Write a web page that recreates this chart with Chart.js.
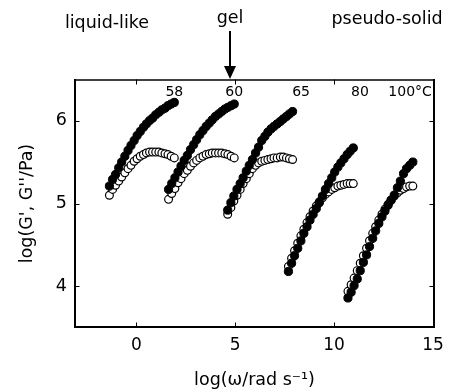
<!DOCTYPE html>
<html>
<head>
<meta charset="utf-8">
<script src="https://cdn.jsdelivr.net/npm/chart.js@4.4.0/dist/chart.umd.min.js"></script>
<style>
    html, body { margin: 0; padding: 0; background: #ffffff; }
    #wrap { width: 456px; height: 392px; }
</style>
</head>
<body>
<div id="wrap"><canvas id="rheoChart" width="456" height="392"></canvas></div>
<script>
// Frequency axis (log omega, shifted) and moduli per temperature
const freq58 = [-1.36, -1.20, -1.05, -0.89, -0.74, -0.58, -0.42, -0.27, -0.11, 0.04, 0.20, 0.36, 0.51, 0.67, 0.82, 0.98, 1.14, 1.29, 1.45, 1.60, 1.76, 1.92];
const gp58  = [5.21, 5.29, 5.35, 5.43, 5.50, 5.57, 5.64, 5.70, 5.76, 5.82, 5.87, 5.92, 5.96, 6.00, 6.03, 6.07, 6.10, 6.13, 6.15, 6.18, 6.20, 6.22];
const gpp58 = [5.10, 5.17, 5.22, 5.27, 5.32, 5.37, 5.42, 5.46, 5.51, 5.54, 5.57, 5.59, 5.61, 5.62, 5.62, 5.62, 5.62, 5.61, 5.60, 5.59, 5.57, 5.55];

const freq60 = [1.63, 1.79, 1.95, 2.11, 2.26, 2.42, 2.58, 2.74, 2.90, 3.05, 3.21, 3.37, 3.53, 3.69, 3.84, 4.00, 4.16, 4.32, 4.48, 4.63, 4.79, 4.95];
const gp60  = [5.17, 5.24, 5.31, 5.38, 5.45, 5.52, 5.58, 5.65, 5.71, 5.77, 5.83, 5.88, 5.93, 5.97, 6.01, 6.05, 6.08, 6.11, 6.14, 6.16, 6.18, 6.20];
const gpp60 = [5.05, 5.12, 5.18, 5.25, 5.30, 5.36, 5.40, 5.45, 5.49, 5.52, 5.55, 5.57, 5.59, 5.60, 5.61, 5.61, 5.61, 5.61, 5.60, 5.59, 5.57, 5.55];

const freq65 = [4.62, 4.78, 4.93, 5.09, 5.25, 5.40, 5.56, 5.71, 5.87, 6.03, 6.18, 6.34, 6.50, 6.65, 6.81, 6.96, 7.12, 7.28, 7.43, 7.59, 7.74, 7.90];
const gp65  = [4.92, 5.01, 5.09, 5.17, 5.24, 5.31, 5.39, 5.46, 5.53, 5.61, 5.68, 5.76, 5.81, 5.86, 5.90, 5.93, 5.96, 5.99, 6.02, 6.05, 6.08, 6.11];
const gpp65 = [4.87, 4.95, 5.03, 5.10, 5.17, 5.24, 5.30, 5.36, 5.42, 5.46, 5.49, 5.51, 5.52, 5.53, 5.54, 5.55, 5.55, 5.56, 5.56, 5.55, 5.54, 5.53];

const freq80 = [7.69, 7.85, 8.00, 8.16, 8.32, 8.47, 8.63, 8.78, 8.94, 9.10, 9.25, 9.41, 9.56, 9.72, 9.88, 10.03, 10.19, 10.34, 10.50, 10.66, 10.81, 10.97];
const gp80  = [4.18, 4.28, 4.37, 4.46, 4.55, 4.64, 4.72, 4.80, 4.87, 4.94, 5.01, 5.09, 5.17, 5.24, 5.31, 5.38, 5.44, 5.49, 5.54, 5.59, 5.63, 5.67];
const gpp80 = [4.24, 4.34, 4.43, 4.52, 4.61, 4.69, 4.77, 4.84, 4.91, 4.97, 5.02, 5.07, 5.11, 5.14, 5.17, 5.19, 5.21, 5.22, 5.23, 5.24, 5.24, 5.24];

const freq100 = [10.70, 10.86, 11.01, 11.17, 11.32, 11.48, 11.64, 11.79, 11.95, 12.10, 12.26, 12.42, 12.57, 12.73, 12.88, 13.04, 13.20, 13.35, 13.51, 13.66, 13.82, 13.98];
const gp100  = [3.86, 3.93, 4.01, 4.09, 4.19, 4.29, 4.38, 4.48, 4.58, 4.67, 4.76, 4.84, 4.91, 4.98, 5.04, 5.10, 5.19, 5.27, 5.36, 5.42, 5.46, 5.50];
const gpp100 = [3.94, 4.02, 4.10, 4.19, 4.28, 4.37, 4.46, 4.55, 4.64, 4.72, 4.80, 4.87, 4.93, 4.99, 5.04, 5.09, 5.13, 5.16, 5.18, 5.20, 5.21, 5.21];

// Tick labels
const xTicks = [0, 5, 10, 15];
const yTicks = [4, 5, 6];

// Temperature labels above each curve
const tempLabels = ['58', '60', '65', '80', '100°C'];
const tempLabelX = [1.92, 4.95, 8.33, 11.31, 13.84];

const FONT = "'DejaVu Sans', sans-serif";

function toPoints(xs, ys) {
    return xs.map((x, i) => ({ x: x, y: ys[i] }));
}

const groups = [
    [freq58, gp58, gpp58],
    [freq60, gp60, gpp60],
    [freq65, gp65, gpp65],
    [freq80, gp80, gpp80],
    [freq100, gp100, gpp100]
];

const datasets = [];
groups.forEach(([f, gp, gpp]) => {
    // G' filled, drawn on top
    datasets.push({
        data: toPoints(f, gp),
        order: 0,
        pointRadius: 4.1,
        pointBorderWidth: 1,
        pointBackgroundColor: '#000000',
        pointBorderColor: '#000000',
        showLine: false
    });
    // G'' open
    datasets.push({
        data: toPoints(f, gpp),
        order: 1,
        pointRadius: 3.9,
        pointBorderWidth: 1.2,
        pointBackgroundColor: '#ffffff',
        pointBorderColor: '#000000',
        showLine: false
    });
});

// Frame, inward ticks and the text annotations
const decorPlugin = {
    id: 'decor',
    afterDraw(chart) {
        const { ctx, chartArea: a, scales: { x, y } } = chart;
        ctx.save();
        ctx.strokeStyle = '#000000';
        ctx.lineCap = 'square';

        ctx.lineWidth = 2;
        ctx.beginPath();
        ctx.moveTo(a.left, a.top);
        ctx.lineTo(a.left, a.bottom);
        ctx.lineTo(a.right, a.bottom);
        ctx.lineTo(a.right, a.top);
        ctx.stroke();
        ctx.lineWidth = 1.3;
        ctx.beginPath();
        ctx.moveTo(a.left, a.top);
        ctx.lineTo(a.right, a.top);
        ctx.stroke();

        const tl = 4;
        ctx.lineWidth = 1;
        ctx.beginPath();
        xTicks.forEach(v => {
            const px = Math.round(x.getPixelForValue(v)) + 0.5;
            ctx.moveTo(px, a.bottom);
            ctx.lineTo(px, a.bottom - tl);
            ctx.moveTo(px, a.top);
            ctx.lineTo(px, a.top + tl);
        });
        yTicks.forEach(v => {
            const py = Math.round(y.getPixelForValue(v)) + 0.5;
            ctx.moveTo(a.left, py);
            ctx.lineTo(a.left + tl, py);
            ctx.moveTo(a.right, py);
            ctx.lineTo(a.right - tl, py);
        });
        ctx.stroke();

        // temperature labels
        ctx.fillStyle = '#000000';
        ctx.font = '14px ' + FONT;
        ctx.textAlign = 'center';
        ctx.textBaseline = 'middle';
        tempLabels.forEach((t, i) => {
            ctx.fillText(t, x.getPixelForValue(tempLabelX[i]), a.top + 12);
        });

        // regime labels above the plot
        ctx.font = '17.5px ' + FONT;
        ctx.textBaseline = 'alphabetic';
        ctx.fillText('liquid-like', 107, 28);
        ctx.fillText('gel', 230, 23);
        ctx.fillText('pseudo-solid', 387, 24);

        // arrow pointing to the gel point
        const ax = 230;
        ctx.lineWidth = 2;
        ctx.beginPath();
        ctx.moveTo(ax, 32);
        ctx.lineTo(ax, 68);
        ctx.stroke();
        ctx.beginPath();
        ctx.moveTo(ax - 6, 66);
        ctx.lineTo(ax + 6, 66);
        ctx.lineTo(ax, a.top - 1);
        ctx.closePath();
        ctx.fill();

        ctx.restore();
    }
};

const chartCanvas = document.getElementById('rheoChart');
new Chart(chartCanvas.getContext('2d'), {
    type: 'scatter',
    data: { datasets: datasets },
    options: {
        responsive: false,
        animation: false,
        devicePixelRatio: 1,
        layout: { padding: { top: 80, right: 22, left: 0, bottom: 0 } },
        plugins: {
            legend: { display: false },
            tooltip: { enabled: false }
        },
        scales: {
            x: {
                type: 'linear',
                min: -3.1,
                max: 15.05,
                afterBuildTicks: s => { s.ticks = xTicks.map(v => ({ value: v })); },
                afterFit: s => { s.height = 65; },
                grid: { display: false, drawTicks: false },
                border: { display: false },
                ticks: {
                    color: '#000000',
                    padding: 8,
                    font: { family: FONT, size: 17 },
                    maxRotation: 0
                },
                title: {
                    display: true,
                    text: 'log(ω/rad s⁻¹)',
                    color: '#000000',
                    font: { family: FONT, size: 17.5 },
                    padding: { top: 2, bottom: 1.5 }
                }
            },
            y: {
                type: 'linear',
                min: 3.51,
                max: 6.49,
                afterBuildTicks: s => { s.ticks = yTicks.map(v => ({ value: v })); },
                afterFit: s => { s.width = 75; },
                grid: { display: false, drawTicks: false },
                border: { display: false },
                ticks: {
                    color: '#000000',
                    padding: 8,
                    font: { family: FONT, size: 17.5 }
                },
                title: {
                    display: true,
                    text: "log(G', G''/Pa)",
                    color: '#000000',
                    font: { family: FONT, size: 17.5 },
                    padding: { top: 16.5, bottom: 0 }
                }
            }
        }
    },
    plugins: [decorPlugin]
});
</script>
</body>
</html>
